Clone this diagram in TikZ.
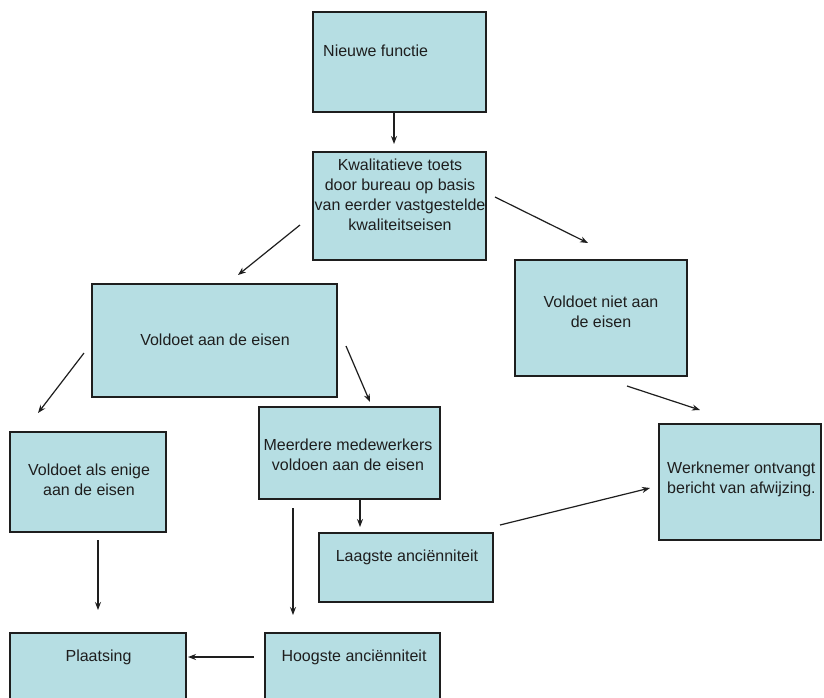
\documentclass[tikz,border=0pt]{standalone}
\usepackage{fontspec}
\setmainfont{Liberation Sans}
\usetikzlibrary{arrows.meta,calc}
\definecolor{boxfill}{RGB}{182,222,227}
\definecolor{ink}{RGB}{30,30,30}
\begin{document}
\begin{tikzpicture}[x=1pt,y=-1pt,
  box/.style={draw=ink,line width=1.4pt,fill=boxfill,inner sep=0pt,outer sep=0pt},
  lbl/.style={font=\fontsize{16}{20}\selectfont,align=center,inner sep=0pt,text=ink},
  arr/.style={-{Stealth[length=8pt,width=6pt]},line width=1.2pt,draw=ink}]
\useasboundingbox (0,0) rectangle (824,697);
\clip (0,0) rectangle (824,697);
\fill[white] (0,0) rectangle (824,697);
% boxes
\node[box,minimum width=173pt,minimum height=100pt] (nf) at (399.5,62) {};
\node[box,minimum width=173pt,minimum height=108pt] (kw) at (399.5,206) {};
\node[box,minimum width=172pt,minimum height=116pt] (vn) at (601,318) {};
\node[box,minimum width=245pt,minimum height=113pt] (va) at (214.5,340.5) {};
\node[box,minimum width=156pt,minimum height=100pt] (ve) at (88,482) {};
\node[box,minimum width=181pt,minimum height=92pt] (me) at (349.5,453) {};
\node[box,minimum width=174pt,minimum height=69pt] (la) at (406,567.5) {};
\node[box,minimum width=162pt,minimum height=116pt] (wn) at (740,482) {};
\node[box,minimum width=176pt,minimum height=79pt] (pl) at (98,672.5) {};
\node[box,minimum width=175pt,minimum height=79pt] (ho) at (352.5,672.5) {};
% texts
\node[lbl,anchor=west] (tnf) at (323,51) {Nieuwe functie};
\node[lbl] (tkw) at (400,195) {Kwalitatieve toets\\door bureau op basis\\van eerder vastgestelde\\kwaliteitseisen};
\node[lbl] (tvn) at (601,311.5) {Voldoet niet aan\\de eisen};
\node[lbl] (tva) at (215,340) {Voldoet aan de eisen};
\node[lbl] (tve) at (89,480) {Voldoet als enige\\aan de eisen};
\node[lbl] (tme) at (348,455) {Meerdere medewerkers\\voldoen aan de eisen};
\node[lbl] (tla) at (407,557) {Laagste anciënniteit};
\node[lbl,anchor=west,align=left] (twn) at (667,479) {Werknemer ontvangt\\bericht van afwijzing.};
\node[lbl] (tpl) at (98.5,657) {Plaatsing};
\node[lbl] (tho) at (354,657) {Hoogste anciënniteit};
% connectors
\draw[arr] ($(nf.south)+(-5.5,0)$) -- ($(kw.north)+(-5.5,-8)$);
\draw[arr] ($(kw.west)+(-13,19)$) -- ($(va.north)+(23.5,-9)$);
\draw[arr] ($(kw.east)+(9,-9)$) -- ($(vn.north)+(-13,-17)$);
\draw[arr] ($(va.west)+(-8,12.5)$) -- ($(ve.north)+(-50,-19)$);
\draw[arr] ($(va.east)+(9,5.5)$) -- ($(me.north)+(20.5,-5)$);
\draw[arr] ($(me.south)+(10.5,0)$) -- ($(la.north)+(-46,-6)$);
\draw[arr] ($(me.south)+(-56.5,9)$) -- ($(ho.north)+(-59.5,-18)$);
\draw[arr] ($(ve.south)+(10,8)$) -- ($(pl.north)+(0,-23)$);
\draw[arr] ($(ho.north west)+(-11,24)$) -- ($(pl.north east)+(2,24)$);
\draw[arr] ($(vn.south)+(26,10)$) -- ($(wn.north)+(-40,-14)$);
\draw[arr] ($(la.north east)+(7,-8)$) -- ($(wn.west)+(-9,6)$);
\end{tikzpicture}
\end{document}
